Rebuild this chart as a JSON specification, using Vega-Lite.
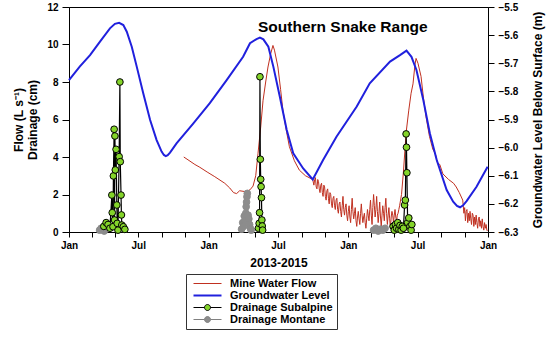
{
  "$schema": "https://vega.github.io/schema/vega-lite/v6.json",
  "width": 419,
  "height": 225,
  "autosize": {"type": "none"},
  "padding": {"left": 69, "top": 7, "right": 62, "bottom": 105},
  "background": "white",
  "config": {
    "font": "Liberation Sans",
    "view": {"stroke": "black", "strokeWidth": 1},
    "axis": {
      "grid": false,
      "domainColor": "black",
      "tickColor": "black",
      "labelColor": "black",
      "titleColor": "black",
      "labelFont": "Liberation Sans",
      "labelFontWeight": "bold",
      "labelFontSize": 10,
      "titleFont": "Liberation Sans",
      "titleFontWeight": "bold",
      "titleFontSize": 12
    }
  },
  "datasets": {
    "flow": [
      {"date": "2013-10-28", "value": 4.0},
      {"date": "2013-11-08", "value": 3.85},
      {"date": "2013-11-26", "value": 3.6},
      {"date": "2013-12-09", "value": 3.45},
      {"date": "2013-12-28", "value": 3.2},
      {"date": "2014-01-17", "value": 2.95},
      {"date": "2014-02-12", "value": 2.6},
      {"date": "2014-02-25", "value": 2.35},
      {"date": "2014-03-07", "value": 2.1},
      {"date": "2014-03-15", "value": 2.05},
      {"date": "2014-03-23", "value": 2.2},
      {"date": "2014-04-08", "value": 2.15},
      {"date": "2014-04-19", "value": 2.25},
      {"date": "2014-04-27", "value": 2.45},
      {"date": "2014-05-04", "value": 3.0},
      {"date": "2014-05-10", "value": 4.2},
      {"date": "2014-05-17", "value": 5.6},
      {"date": "2014-05-23", "value": 7.0},
      {"date": "2014-05-30", "value": 8.0},
      {"date": "2014-06-05", "value": 8.8},
      {"date": "2014-06-12", "value": 9.5},
      {"date": "2014-06-18", "value": 9.95},
      {"date": "2014-06-22", "value": 9.7},
      {"date": "2014-07-01", "value": 8.8},
      {"date": "2014-07-08", "value": 7.6},
      {"date": "2014-07-14", "value": 6.5},
      {"date": "2014-07-24", "value": 5.3},
      {"date": "2014-07-31", "value": 4.55},
      {"date": "2014-08-13", "value": 3.8},
      {"date": "2014-08-26", "value": 3.3},
      {"date": "2014-09-11", "value": 3.0},
      {"date": "2014-09-30", "value": 2.8},
      {"date": "2014-10-03", "value": 2.5},
      {"date": "2014-10-05", "value": 2.8},
      {"date": "2014-10-07", "value": 2.9},
      {"date": "2014-10-09", "value": 2.4},
      {"date": "2014-10-11", "value": 2.3},
      {"date": "2014-10-13", "value": 2.8},
      {"date": "2014-10-15", "value": 2.7},
      {"date": "2014-10-17", "value": 2.3},
      {"date": "2014-10-19", "value": 2.1},
      {"date": "2014-10-21", "value": 2.5},
      {"date": "2014-10-23", "value": 2.6},
      {"date": "2014-10-25", "value": 2.1},
      {"date": "2014-10-27", "value": 1.9},
      {"date": "2014-10-29", "value": 2.5},
      {"date": "2014-10-31", "value": 2.4},
      {"date": "2014-11-02", "value": 1.9},
      {"date": "2014-11-04", "value": 1.7},
      {"date": "2014-11-06", "value": 2.2},
      {"date": "2014-11-08", "value": 2.3},
      {"date": "2014-11-10", "value": 1.8},
      {"date": "2014-11-12", "value": 1.5},
      {"date": "2014-11-14", "value": 2.1},
      {"date": "2014-11-16", "value": 2.0},
      {"date": "2014-11-18", "value": 1.5},
      {"date": "2014-11-20", "value": 1.3},
      {"date": "2014-11-22", "value": 1.8},
      {"date": "2014-11-24", "value": 1.9},
      {"date": "2014-11-26", "value": 1.4},
      {"date": "2014-11-28", "value": 1.2},
      {"date": "2014-11-30", "value": 1.7},
      {"date": "2014-12-02", "value": 1.8},
      {"date": "2014-12-04", "value": 1.2},
      {"date": "2014-12-06", "value": 1.0},
      {"date": "2014-12-08", "value": 1.5},
      {"date": "2014-12-10", "value": 1.6},
      {"date": "2014-12-12", "value": 1.1},
      {"date": "2014-12-14", "value": 0.8},
      {"date": "2014-12-16", "value": 1.4},
      {"date": "2014-12-18", "value": 1.9},
      {"date": "2014-12-20", "value": 1.2},
      {"date": "2014-12-22", "value": 0.9},
      {"date": "2014-12-24", "value": 1.3},
      {"date": "2014-12-26", "value": 1.5},
      {"date": "2014-12-28", "value": 0.9},
      {"date": "2014-12-30", "value": 0.6},
      {"date": "2015-01-01", "value": 1.1},
      {"date": "2015-01-03", "value": 1.4},
      {"date": "2015-01-05", "value": 0.8},
      {"date": "2015-01-07", "value": 0.5},
      {"date": "2015-01-09", "value": 1.2},
      {"date": "2015-01-11", "value": 1.8},
      {"date": "2015-01-13", "value": 1.1},
      {"date": "2015-01-15", "value": 0.7},
      {"date": "2015-01-17", "value": 1.0},
      {"date": "2015-01-19", "value": 1.3},
      {"date": "2015-01-21", "value": 0.6},
      {"date": "2015-01-23", "value": 0.3},
      {"date": "2015-01-25", "value": 0.8},
      {"date": "2015-01-27", "value": 1.1},
      {"date": "2015-01-29", "value": 0.7},
      {"date": "2015-01-31", "value": 0.4},
      {"date": "2015-02-02", "value": 1.0},
      {"date": "2015-02-04", "value": 1.5},
      {"date": "2015-02-06", "value": 0.9},
      {"date": "2015-02-08", "value": 0.5},
      {"date": "2015-02-10", "value": 0.8},
      {"date": "2015-02-12", "value": 1.0},
      {"date": "2015-02-14", "value": 0.5},
      {"date": "2015-02-16", "value": 0.2},
      {"date": "2015-02-18", "value": 0.7},
      {"date": "2015-02-20", "value": 1.2},
      {"date": "2015-02-22", "value": 0.9},
      {"date": "2015-02-24", "value": 0.6},
      {"date": "2015-02-26", "value": 1.2},
      {"date": "2015-02-28", "value": 1.7},
      {"date": "2015-03-02", "value": 0.9},
      {"date": "2015-03-04", "value": 0.4},
      {"date": "2015-03-06", "value": 1.3},
      {"date": "2015-03-08", "value": 2.0},
      {"date": "2015-03-10", "value": 1.4},
      {"date": "2015-03-12", "value": 0.8},
      {"date": "2015-03-14", "value": 1.2},
      {"date": "2015-03-16", "value": 1.9},
      {"date": "2015-03-18", "value": 1.1},
      {"date": "2015-03-20", "value": 0.5},
      {"date": "2015-03-22", "value": 1.0},
      {"date": "2015-03-24", "value": 1.6},
      {"date": "2015-03-26", "value": 0.8},
      {"date": "2015-03-28", "value": 0.3},
      {"date": "2015-03-30", "value": 0.9},
      {"date": "2015-04-01", "value": 1.4},
      {"date": "2015-04-03", "value": 1.0},
      {"date": "2015-04-05", "value": 0.6},
      {"date": "2015-04-07", "value": 1.3},
      {"date": "2015-04-09", "value": 1.8},
      {"date": "2015-04-11", "value": 1.0},
      {"date": "2015-04-13", "value": 0.4},
      {"date": "2015-04-15", "value": 0.9},
      {"date": "2015-04-17", "value": 1.3},
      {"date": "2015-04-19", "value": 0.7},
      {"date": "2015-04-21", "value": 0.2},
      {"date": "2015-04-23", "value": 0.8},
      {"date": "2015-04-25", "value": 1.1},
      {"date": "2015-04-27", "value": 0.9},
      {"date": "2015-04-29", "value": 0.5},
      {"date": "2015-05-01", "value": 0.9},
      {"date": "2015-05-03", "value": 1.2},
      {"date": "2015-05-05", "value": 0.8},
      {"date": "2015-05-07", "value": 0.6},
      {"date": "2015-05-09", "value": 0.9},
      {"date": "2015-05-11", "value": 1.0},
      {"date": "2015-05-13", "value": 1.2},
      {"date": "2015-05-15", "value": 1.4},
      {"date": "2015-05-20", "value": 2.0},
      {"date": "2015-05-25", "value": 3.2},
      {"date": "2015-06-01", "value": 5.3},
      {"date": "2015-06-08", "value": 6.5},
      {"date": "2015-06-14", "value": 7.4},
      {"date": "2015-06-19", "value": 7.9},
      {"date": "2015-06-24", "value": 8.9},
      {"date": "2015-06-27", "value": 9.26},
      {"date": "2015-07-02", "value": 9.0},
      {"date": "2015-07-10", "value": 8.3},
      {"date": "2015-07-16", "value": 7.2},
      {"date": "2015-07-23", "value": 6.15},
      {"date": "2015-08-01", "value": 5.1},
      {"date": "2015-08-10", "value": 4.4},
      {"date": "2015-08-16", "value": 4.2},
      {"date": "2015-08-22", "value": 3.7},
      {"date": "2015-08-28", "value": 3.6},
      {"date": "2015-09-05", "value": 3.1},
      {"date": "2015-09-20", "value": 2.8},
      {"date": "2015-10-03", "value": 2.6},
      {"date": "2015-10-10", "value": 2.4},
      {"date": "2015-10-18", "value": 2.1},
      {"date": "2015-10-27", "value": 1.7},
      {"date": "2015-10-30", "value": 1.0},
      {"date": "2015-11-01", "value": 1.3},
      {"date": "2015-11-03", "value": 0.6},
      {"date": "2015-11-05", "value": 1.1},
      {"date": "2015-11-07", "value": 1.2},
      {"date": "2015-11-09", "value": 0.5},
      {"date": "2015-11-11", "value": 1.0},
      {"date": "2015-11-13", "value": 0.6},
      {"date": "2015-11-15", "value": 1.1},
      {"date": "2015-11-17", "value": 0.7},
      {"date": "2015-11-19", "value": 0.4},
      {"date": "2015-11-21", "value": 1.0},
      {"date": "2015-11-23", "value": 0.9},
      {"date": "2015-11-25", "value": 0.3},
      {"date": "2015-11-27", "value": 0.8},
      {"date": "2015-11-29", "value": 0.4},
      {"date": "2015-12-01", "value": 0.9},
      {"date": "2015-12-03", "value": 0.5},
      {"date": "2015-12-05", "value": 0.2},
      {"date": "2015-12-07", "value": 0.7},
      {"date": "2015-12-09", "value": 0.8},
      {"date": "2015-12-11", "value": 0.3},
      {"date": "2015-12-13", "value": 0.6},
      {"date": "2015-12-15", "value": 0.2},
      {"date": "2015-12-17", "value": 0.7},
      {"date": "2015-12-19", "value": 0.3},
      {"date": "2015-12-21", "value": 0.1},
      {"date": "2015-12-23", "value": 0.5},
      {"date": "2015-12-25", "value": 0.2},
      {"date": "2015-12-27", "value": 0.4},
      {"date": "2015-12-29", "value": 0.1},
      {"date": "2015-12-31", "value": 0.05}
    ],
    "gw": [
      {"date": "2013-01-01", "gw": -5.760},
      {"date": "2013-01-29", "gw": -5.712},
      {"date": "2013-02-25", "gw": -5.671},
      {"date": "2013-03-23", "gw": -5.623},
      {"date": "2013-04-18", "gw": -5.576},
      {"date": "2013-05-01", "gw": -5.560},
      {"date": "2013-05-12", "gw": -5.556},
      {"date": "2013-05-23", "gw": -5.564},
      {"date": "2013-06-01", "gw": -5.588},
      {"date": "2013-06-14", "gw": -5.641},
      {"date": "2013-06-27", "gw": -5.712},
      {"date": "2013-07-14", "gw": -5.807},
      {"date": "2013-08-01", "gw": -5.902},
      {"date": "2013-08-18", "gw": -5.973},
      {"date": "2013-08-31", "gw": -6.014},
      {"date": "2013-09-06", "gw": -6.026},
      {"date": "2013-09-11", "gw": -6.030},
      {"date": "2013-09-16", "gw": -6.027},
      {"date": "2013-09-22", "gw": -6.018},
      {"date": "2013-10-09", "gw": -5.985},
      {"date": "2013-11-22", "gw": -5.914},
      {"date": "2014-01-04", "gw": -5.842},
      {"date": "2014-02-17", "gw": -5.760},
      {"date": "2014-04-01", "gw": -5.677},
      {"date": "2014-04-19", "gw": -5.629},
      {"date": "2014-05-06", "gw": -5.614},
      {"date": "2014-05-15", "gw": -5.609},
      {"date": "2014-05-24", "gw": -5.615},
      {"date": "2014-06-06", "gw": -5.641},
      {"date": "2014-06-19", "gw": -5.712},
      {"date": "2014-07-06", "gw": -5.819},
      {"date": "2014-07-24", "gw": -5.937},
      {"date": "2014-08-10", "gw": -6.020},
      {"date": "2014-09-05", "gw": -6.074},
      {"date": "2014-09-30", "gw": -6.113},
      {"date": "2014-10-27", "gw": -6.044},
      {"date": "2014-12-01", "gw": -5.961},
      {"date": "2015-01-23", "gw": -5.854},
      {"date": "2015-02-26", "gw": -5.771},
      {"date": "2015-04-20", "gw": -5.694},
      {"date": "2015-05-16", "gw": -5.671},
      {"date": "2015-06-02", "gw": -5.655},
      {"date": "2015-06-15", "gw": -5.677},
      {"date": "2015-06-28", "gw": -5.724},
      {"date": "2015-07-16", "gw": -5.831},
      {"date": "2015-08-02", "gw": -5.949},
      {"date": "2015-08-20", "gw": -6.044},
      {"date": "2015-09-15", "gw": -6.151},
      {"date": "2015-10-02", "gw": -6.192},
      {"date": "2015-10-12", "gw": -6.207},
      {"date": "2015-10-20", "gw": -6.212},
      {"date": "2015-10-28", "gw": -6.205},
      {"date": "2015-11-06", "gw": -6.190},
      {"date": "2015-12-02", "gw": -6.139},
      {"date": "2015-12-31", "gw": -6.068}
    ],
    "sub": [
      {"date": "2013-04-02", "value": 0.3},
      {"date": "2013-04-08", "value": 0.5},
      {"date": "2013-04-13", "value": 0.4},
      {"date": "2013-04-18", "value": 0.2},
      {"date": "2013-04-23", "value": 1.97},
      {"date": "2013-04-24", "value": 1.03},
      {"date": "2013-04-26", "value": 0.28},
      {"date": "2013-04-27", "value": 2.99},
      {"date": "2013-04-29", "value": 5.48},
      {"date": "2013-04-30", "value": 0.64},
      {"date": "2013-05-01", "value": 5.12},
      {"date": "2013-05-02", "value": 3.31},
      {"date": "2013-05-04", "value": 4.41},
      {"date": "2013-05-06", "value": 1.44},
      {"date": "2013-05-07", "value": 0.46},
      {"date": "2013-05-09", "value": 0.1},
      {"date": "2013-05-12", "value": 4.02},
      {"date": "2013-05-14", "value": 8.0},
      {"date": "2013-05-15", "value": 3.75},
      {"date": "2013-05-17", "value": 1.97},
      {"date": "2013-05-18", "value": 0.91},
      {"date": "2013-05-19", "value": 0.37},
      {"date": "2013-05-23", "value": 0.28},
      {"date": "2013-05-27", "value": 0.14},
      {"date": "2014-05-11", "value": 0.2},
      {"date": "2014-05-13", "value": 0.46},
      {"date": "2014-05-14", "value": 1.03},
      {"date": "2014-05-15", "value": 8.28},
      {"date": "2014-05-16", "value": 3.88},
      {"date": "2014-05-17", "value": 2.81},
      {"date": "2014-05-18", "value": 2.42},
      {"date": "2014-05-19", "value": 1.83},
      {"date": "2014-05-20", "value": 0.64},
      {"date": "2014-05-21", "value": 0.32},
      {"date": "2014-05-22", "value": 0.1},
      {"date": "2015-04-28", "value": 0.3},
      {"date": "2015-05-01", "value": 0.1},
      {"date": "2015-05-04", "value": 0.4},
      {"date": "2015-05-07", "value": 0.2},
      {"date": "2015-05-10", "value": 0.5},
      {"date": "2015-05-13", "value": 0.15},
      {"date": "2015-05-16", "value": 0.35},
      {"date": "2015-05-19", "value": 0.1},
      {"date": "2015-05-22", "value": 0.3},
      {"date": "2015-05-25", "value": 0.2},
      {"date": "2015-05-28", "value": 1.44},
      {"date": "2015-05-30", "value": 1.7},
      {"date": "2015-06-01", "value": 5.23},
      {"date": "2015-06-02", "value": 4.52},
      {"date": "2015-06-03", "value": 3.16},
      {"date": "2015-06-05", "value": 0.5},
      {"date": "2015-06-08", "value": 0.75},
      {"date": "2015-06-11", "value": 0.3},
      {"date": "2015-06-14", "value": 0.1},
      {"date": "2015-06-16", "value": 0.4}
    ],
    "mon": [
      {"date": "2013-03-22", "value": 0.1},
      {"date": "2013-03-26", "value": 0.2},
      {"date": "2013-03-30", "value": 0.15},
      {"date": "2013-04-03", "value": 0.05},
      {"date": "2014-03-28", "value": 0.15},
      {"date": "2014-03-31", "value": 0.5},
      {"date": "2014-04-02", "value": 0.3},
      {"date": "2014-04-04", "value": 0.85},
      {"date": "2014-04-06", "value": 0.6},
      {"date": "2014-04-08", "value": 1.0},
      {"date": "2014-04-09", "value": 1.35},
      {"date": "2014-04-10", "value": 1.6},
      {"date": "2014-04-11", "value": 1.88},
      {"date": "2014-04-12", "value": 2.06},
      {"date": "2014-04-14", "value": 0.9},
      {"date": "2014-04-16", "value": 0.7},
      {"date": "2014-04-18", "value": 0.4},
      {"date": "2014-04-20", "value": 0.2},
      {"date": "2014-04-22", "value": 0.1},
      {"date": "2015-03-08", "value": 0.1},
      {"date": "2015-03-14", "value": 0.2},
      {"date": "2015-03-20", "value": 0.05},
      {"date": "2015-03-26", "value": 0.15},
      {"date": "2015-04-01", "value": 0.1},
      {"date": "2015-04-07", "value": 0.2}
    ],
    "label": [
      {"date": "2014-05-10", "value": 10.67, "text": "Southern Snake Range"}
    ]
  },
  "encoding": {
    "x": {
      "field": "date",
      "type": "temporal",
      "scale": {
        "type": "utc",
        "domain": [
          {"year": 2013, "month": 1, "date": 1, "utc": true},
          {"year": 2016, "month": 1, "date": 1, "utc": true}
        ],
        "nice": false
      },
      "axis": {
        "title": "2013-2015",
        "tickCount": {"interval": "month", "step": 2},
        "labelExpr": "utcmonth(datum.value) == 0 ? 'Jan' : (utcmonth(datum.value) == 6 ? 'Jul' : '')",
        "tickSize": 5,
        "labelPadding": 3,
        "titlePadding": 7,
        "labelFlush": false,
        "labelOverlap": false
      }
    }
  },
  "layer": [
    {
      "encoding": {
        "y": {
          "field": "value",
          "type": "quantitative",
          "scale": {"domain": [0, 12], "nice": false},
          "axis": {
            "orient": "left",
            "title": ["Flow (L s⁻¹)", "Drainage (cm)"],
            "values": [0, 2, 4, 6, 8, 10, 12],
            "tickSize": 7,
            "labelPadding": 4,
            "titlePadding": 7,
            "titleLineHeight": 14
          }
        }
      },
      "layer": [
        {
          "data": {"name": "flow"},
          "mark": {"type": "line", "strokeWidth": 1, "interpolate": "linear"},
          "encoding": {
            "color": {
              "datum": "Mine Water Flow",
              "scale": {
                "domain": ["Mine Water Flow", "Groundwater Level", "Drainage Subalpine", "Drainage Montane"],
                "range": ["#C03020", "#2020DD", "#000000", "#808080"]
              },
              "legend": {
                "title": null,
                "orient": "none",
                "legendX": 117,
                "legendY": 267,
                "direction": "vertical",
                "strokeColor": "#333333",
                "fillColor": "white",
                "padding": 4,
                "labelFont": "Liberation Sans",
                "labelFontWeight": "bold",
                "labelFontSize": 11,
                "labelColor": "black",
                "labelOffset": 29,
                "symbolSize": 100,
                "rowPadding": 0,
                "encode": {
                  "symbols": {
                    "update": {
                      "shape": {"signal": "(datum.value == 'Drainage Subalpine' || datum.value == 'Drainage Montane') ? 'M-0.4,0H1.8M3,0H5.2M3,0A0.6,0.6,0,1,1,1.8,0A0.6,0.6,0,1,1,3,0Z' : 'M-0.4,0H5.2'"},
                      "fill": {"signal": "datum.value == 'Drainage Subalpine' ? '#84D42A' : (datum.value == 'Drainage Montane' ? '#8C8C8C' : 'transparent')"},
                      "strokeWidth": {"signal": "datum.value == 'Groundwater Level' ? 2 : 1"}
                    }
                  }
                }
              }
            }
          }
        },
        {
          "data": {"name": "mon"},
          "mark": {"type": "line", "strokeWidth": 1},
          "encoding": {
            "color": {"datum": "Drainage Montane"},
            "detail": {"timeUnit": "utcyear", "field": "date", "type": "temporal"}
          }
        },
        {
          "data": {"name": "mon"},
          "mark": {"type": "point", "filled": true, "size": 45, "fill": "#8C8C8C", "stroke": "#8C8C8C", "strokeWidth": 1, "opacity": 1},
          "encoding": {}
        },
        {
          "data": {"name": "sub"},
          "mark": {"type": "line", "strokeWidth": 1.2},
          "encoding": {
            "color": {"datum": "Drainage Subalpine"},
            "detail": {"timeUnit": "utcyear", "field": "date", "type": "temporal"}
          }
        },
        {
          "data": {"name": "sub"},
          "mark": {"type": "point", "size": 45, "fill": "#84D42A", "stroke": "#000000", "strokeWidth": 1, "opacity": 1, "fillOpacity": 1},
          "encoding": {}
        },
        {
          "data": {"name": "label"},
          "mark": {"type": "text", "align": "left", "baseline": "alphabetic", "fontSize": 15.5, "fontWeight": "bold", "font": "Liberation Sans", "color": "black"},
          "encoding": {
            "text": {"field": "text"}
          }
        }
      ]
    },
    {
      "data": {"name": "gw"},
      "mark": {"type": "line", "strokeWidth": 2},
      "encoding": {
        "y": {
          "field": "gw",
          "type": "quantitative",
          "scale": {"domain": [-6.3, -5.5], "nice": false, "zero": false},
          "axis": {
            "orient": "right",
            "title": "Groundwater Level Below Surface (m)",
            "values": [-6.3, -6.2, -6.1, -6.0, -5.9, -5.8, -5.7, -5.6, -5.5],
            "format": ".1f",
            "tickSize": 6,
            "labelPadding": 4,
            "titleAngle": 270,
            "titleX": 49,
            "titleY": 112.5,
            "titleAlign": "center",
            "titleBaseline": "middle"
          }
        },
        "color": {"datum": "Groundwater Level"}
      }
    }
  ],
  "resolve": {"scale": {"y": "independent"}}
}
